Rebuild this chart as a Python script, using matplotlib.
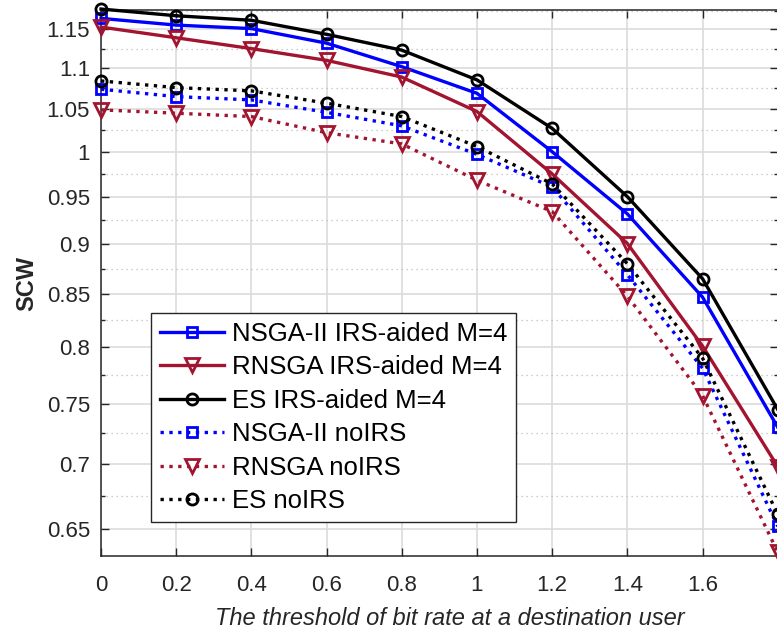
import numpy as np
import matplotlib
matplotlib.use('Agg')
import matplotlib.pyplot as plt
from matplotlib.ticker import FixedLocator, NullFormatter

plt.rcParams['font.family'] = ['Liberation Sans', 'DejaVu Sans']

# 数据
rate = [0, 0.2, 0.4, 0.6, 0.8, 1.0, 1.2, 1.4, 1.6, 1.8]
nsga_irs = [1.1645, 1.1556, 1.151, 1.132, 1.102, 1.069, 1.000, 0.9315, 0.847, 0.730]
rnsga_irs = [1.153, 1.139, 1.125, 1.110, 1.089, 1.047, 0.975, 0.9005, 0.801, 0.698]
es_irs = [1.177, 1.168, 1.162, 1.1435, 1.123, 1.0855, 1.027, 0.950, 0.865, 0.745]
nsga_noirs = [1.074, 1.065, 1.061, 1.046, 1.030, 0.997, 0.9606, 0.869, 0.781, 0.652]
rnsga_noirs = [1.049, 1.045, 1.041, 1.022, 1.009, 0.968, 0.934, 0.848, 0.757, 0.633]
es_noirs = [1.0842, 1.076, 1.072, 1.057, 1.041, 1.006, 0.964, 0.880, 0.790, 0.661]

labels = ['NSGA-II IRS-aided M=4', 'RNSGA IRS-aided M=4', 'ES IRS-aided M=4',
          'NSGA-II noIRS', 'RNSGA noIRS', 'ES noIRS']

yticks = [0.65, 0.7, 0.75, 0.8, 0.85, 0.9, 0.95, 1.0, 1.05, 1.1, 1.15]
yminor = [0.675, 0.725, 0.775, 0.825, 0.875, 0.925, 0.975, 1.025, 1.075, 1.125, 1.175]
xticks = [0, 0.2, 0.4, 0.6, 0.8, 1.0, 1.2, 1.4, 1.6]

blue = '#0000FF'
red = '#A2142F'
black = '#000000'

fig = plt.figure(figsize=(7.77, 6.34), dpi=100)
ax = fig.add_axes([0.130, 0.123, 0.871, 0.861])

series = [
    (nsga_irs, blue, '-', 's', 7.5),
    (rnsga_irs, red, '-', 'v', 10),
    (es_irs, black, '-', 'o', 8),
    (nsga_noirs, blue, ':', 's', 7.5),
    (rnsga_noirs, red, ':', 'v', 10),
    (es_noirs, black, ':', 'o', 8),
]
for (vals, c, ls, mk, ms), lab in zip(series, labels):
    ax.plot(rate, vals, color=c, linestyle=ls, marker=mk, markersize=ms,
            markerfacecolor='none', markeredgewidth=2, linewidth=2.4,
            label=lab, clip_on=False, zorder=3)

ax.set_yscale('log')
ax.set_xlim(0, 1.8)
ax.set_ylim(0.6303, 1.1755)
ax.yaxis.set_major_locator(FixedLocator(yticks))
ax.yaxis.set_minor_locator(FixedLocator(yminor))
ax.yaxis.set_minor_formatter(NullFormatter())
ax.set_yticklabels(['%g' % v for v in yticks])
ax.set_xticks(xticks)
ax.set_xticklabels(['%g' % v for v in xticks])

ax.grid(True, which='major', color='#DCDCDC', linewidth=1.2, linestyle='-')
ax.grid(True, which='minor', axis='y', color='#BDBDBD', linewidth=0.9, linestyle=(0, (1, 3)))
ax.set_axisbelow(True)

ax.tick_params(which='both', direction='in', top=True, right=True, labelsize=16,
               colors='#262626', length=6, width=1)
ax.tick_params(which='minor', length=3)
ax.tick_params(axis='x', pad=14)
ax.tick_params(axis='y', pad=8)
for s in ax.spines.values():
    s.set_color('#262626')
    s.set_linewidth(1.1)

ax.set_xlabel('The threshold of bit rate at a destination user', fontsize=17,
              style='italic', color='#262626')
ax.xaxis.set_label_coords(0.515, -0.093)
ax.set_ylabel('SCW', fontsize=17, fontweight='bold', color='#262626', labelpad=6)

leg = ax.legend(loc='lower left', bbox_to_anchor=(0.074, 0.0616), fontsize=18.5,
                handlelength=2.5, labelspacing=0.37, borderpad=0.35,
                handletextpad=0.3, borderaxespad=0, fancybox=False, framealpha=1)
leg.get_frame().set_edgecolor('#262626')
leg.get_frame().set_linewidth(1.0)

plt.savefig('out.png', dpi=100)
